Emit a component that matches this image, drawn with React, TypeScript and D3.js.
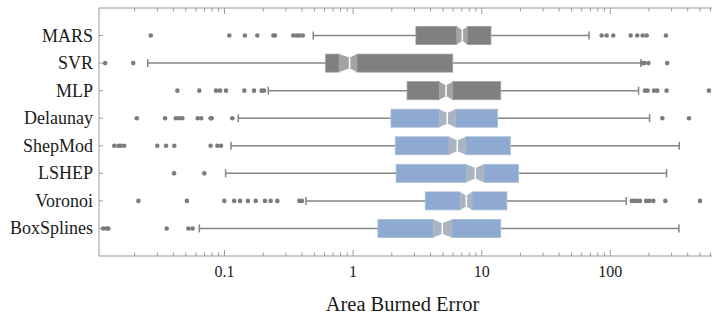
import { useRef, useEffect } from "react";
import * as d3 from "d3";

const categories = ["MARS", "SVR", "MLP", "Delaunay", "ShepMod", "LSHEP", "Voronoi", "BoxSplines"];
const family = ["fit", "fit", "fit", "interp", "interp", "interp", "interp", "interp"];

const whiskerLow = [0.49, 0.0253, 0.219, 0.128, 0.1124, 0.102, 0.43, 0.0637];
const q1 = [3.08, 0.612, 2.63, 1.97, 2.13, 2.16, 3.64, 1.56];
const notchLow = [6.4, 0.78, 4.68, 4.68, 5.57, 7.6, 6.82, 4.2];
const median = [7.07, 0.94, 5.28, 5.4, 6.46, 8.92, 7.6, 4.94];
const notchHigh = [7.73, 1.07, 5.95, 6.23, 7.51, 10.4, 8.41, 5.85];
const q3 = [11.8, 5.95, 14.06, 13.3, 16.7, 19.3, 15.7, 14.06];
const whiskerHigh = [68.3, 173, 166, 202, 344, 274, 133, 342];

const outliers = [
  [0.0267, 0.109, 0.144, 0.18, 0.24, 0.247, 0.343, 0.365, 0.381, 0.406, 85.7, 93.7, 105.5, 144, 162, 178.6, 192, 271],
  [0.0118, 0.0195, 178, 184, 198, 277],
  [0.043, 0.0637, 0.0859, 0.0923, 0.1027, 0.1426, 0.1696, 0.1946, 0.203, 186, 195, 219, 232, 274, 585],
  [0.0208, 0.0345, 0.0418, 0.0444, 0.047, 0.0619, 0.0659, 0.078, 0.0795, 0.115, 254, 409],
  [0.0139, 0.015, 0.0156, 0.0166, 0.03, 0.0351, 0.0407, 0.078, 0.088, 0.094],
  [0.0405, 0.0697],
  [0.0214, 0.051, 0.0996, 0.119, 0.132, 0.152, 0.175, 0.2065, 0.2286, 0.2575, 0.382, 0.4, 147, 153, 160, 170, 190, 201, 216, 268, 499],
  [0.0114, 0.0121, 0.0125, 0.0355, 0.0524, 0.0565],
];

const tickValues = [0.1, 1, 10, 100];

const W = 713;
const H = 321;
const left = 99;
const right = 712;
const top = 8;
const bottom = 256;
const serif = "Liberation Serif";

const colors = {
  fit: { box: "#808080", notch: "#a3a3a3", edge: "#9a9a9a" },
  interp: { box: "#8eaad0", notch: "#aab3c2", edge: "#a7bcd9" },
};

export default function App() {
  const ref = useRef<SVGSVGElement>(null);

  useEffect(() => {
    const svg = d3.select(ref.current);
    svg.selectAll("*").remove();

    const x = d3.scaleLog().domain([0.01057, 618]).range([left, right]);
    const y = d3.scalePoint<string>().domain(categories).range([top, bottom]).padding(1);

    const axisColor = "#9a9a9a";
    const boxH = 18;
    const innerH = 10.5;
    const capH = 8;

    // minor and major ticks
    const minor: number[] = [];
    for (let e = -2; e <= 2; e++) {
      for (let m = 1; m <= 9; m++) {
        const v = m * Math.pow(10, e);
        if (v >= 0.01057 && v <= 618) minor.push(v);
      }
    }

    const frame = svg.append("g");
    frame.append("line").attr("x1", left).attr("x2", left).attr("y1", top).attr("y2", bottom)
      .attr("stroke", axisColor).attr("stroke-width", 1);
    frame.append("line").attr("x1", left).attr("x2", right).attr("y1", top).attr("y2", top)
      .attr("stroke", axisColor).attr("stroke-width", 1);
    frame.append("line").attr("x1", left).attr("x2", right).attr("y1", bottom).attr("y2", bottom)
      .attr("stroke", axisColor).attr("stroke-width", 1);

    minor.forEach((v) => {
      const major = Math.abs(Math.log10(v) - Math.round(Math.log10(v))) < 1e-9;
      const len = major ? 6 : 3.5;
      frame.append("line").attr("x1", x(v)).attr("x2", x(v)).attr("y1", top).attr("y2", top + len)
        .attr("stroke", axisColor).attr("stroke-width", 1);
      frame.append("line").attr("x1", x(v)).attr("x2", x(v)).attr("y1", bottom).attr("y2", bottom - len)
        .attr("stroke", axisColor).attr("stroke-width", 1);
    });

    frame.selectAll("text.tick")
      .data(tickValues)
      .enter()
      .append("text")
      .attr("class", "tick")
      .attr("x", (d) => x(d))
      .attr("y", 277)
      .attr("text-anchor", "middle")
      .style("font-family", serif)
      .attr("font-size", 16)
      .attr("fill", "#1a1a1a")
      .text((d) => String(d));

    frame.append("text")
      .attr("x", (left + right) / 2 - 3)
      .attr("y", 311)
      .attr("text-anchor", "middle")
      .style("font-family", serif)
      .attr("font-size", 20.5)
      .attr("fill", "#1a1a1a")
      .text("Area Burned Error");

    categories.forEach((c) => {
      const cy = y(c)!;
      frame.append("line").attr("x1", left).attr("x2", left + 4).attr("y1", cy).attr("y2", cy)
        .attr("stroke", axisColor).attr("stroke-width", 1);
      frame.append("text")
        .attr("x", 93)
        .attr("y", cy + 6)
        .attr("text-anchor", "end")
        .style("font-family", serif)
        .attr("font-size", 18)
        .attr("fill", "#1a1a1a")
        .text(c);
    });

    const whiskColor = "#858585";

    categories.forEach((c, i) => {
      const cy = y(c)!;
      const col = colors[family[i] as "fit" | "interp"];
      const g = svg.append("g");

      // whiskers
      g.append("line").attr("x1", x(whiskerLow[i])).attr("x2", x(q1[i])).attr("y1", cy).attr("y2", cy)
        .attr("stroke", whiskColor).attr("stroke-width", 1.5);
      g.append("line").attr("x1", x(q3[i])).attr("x2", x(whiskerHigh[i])).attr("y1", cy).attr("y2", cy)
        .attr("stroke", whiskColor).attr("stroke-width", 1.5);
      [whiskerLow[i], whiskerHigh[i]].forEach((v) => {
        g.append("line").attr("x1", x(v)).attr("x2", x(v)).attr("y1", cy - capH / 2).attr("y2", cy + capH / 2)
          .attr("stroke", whiskColor).attr("stroke-width", 1.5);
      });

      // box parts
      const xq1 = x(q1[i]), xnl = x(notchLow[i]), xm = x(median[i]), xnh = x(notchHigh[i]), xq3 = x(q3[i]);
      g.append("rect").attr("x", xq1).attr("y", cy - boxH / 2).attr("width", xnl - xq1).attr("height", boxH)
        .attr("fill", col.box).attr("stroke", col.edge).attr("stroke-width", 0.8);
      g.append("rect").attr("x", xnh).attr("y", cy - boxH / 2).attr("width", xq3 - xnh).attr("height", boxH)
        .attr("fill", col.box).attr("stroke", col.edge).attr("stroke-width", 0.8);
      const notch = d3.path();
      notch.moveTo(xnl, cy - boxH / 2);
      notch.lineTo(xm, cy - innerH / 2);
      notch.lineTo(xnh, cy - boxH / 2);
      notch.lineTo(xnh, cy + boxH / 2);
      notch.lineTo(xm, cy + innerH / 2);
      notch.lineTo(xnl, cy + boxH / 2);
      notch.closePath();
      g.append("path").attr("d", notch.toString()).attr("fill", col.notch);
      g.append("line").attr("x1", xm).attr("x2", xm).attr("y1", cy - innerH / 2).attr("y2", cy + innerH / 2)
        .attr("stroke", "#ffffff").attr("stroke-width", 1.5);

      // outliers
      g.selectAll("circle")
        .data(outliers[i])
        .enter()
        .append("circle")
        .attr("cx", (d) => x(d))
        .attr("cy", cy)
        .attr("r", 2.3)
        .attr("fill", "#7c7c7c");
    });
  }, []);

  return (
    <svg
      ref={ref}
      width={W}
      height={H}
      style={{ position: "absolute", left: 0, top: 0, background: "#fff" }}
    />
  );
}
